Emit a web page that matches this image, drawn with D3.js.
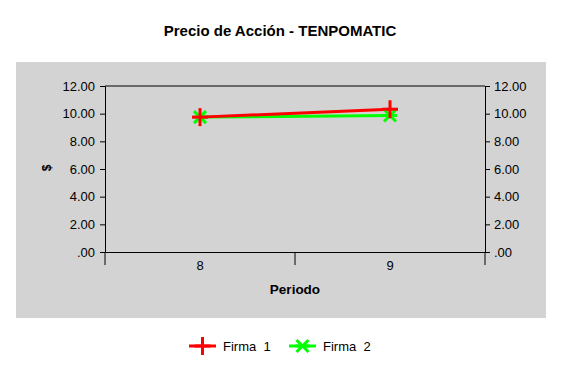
<!DOCTYPE html>
<html>
<head>
<meta charset="utf-8">
<script src="https://cdn.jsdelivr.net/npm/d3@7"></script>
<style>
  body { margin: 0; background: #fff; }
  text { font-family: Arial, "Liberation Sans", sans-serif; fill: #000; }
</style>
</head>
<body>
<div id="app"></div>
<script>
var w = 562, h = 372;

// datos
const periodos = ["8", "9"];
const firma1 = [9.75, 10.32];
const firma2 = [9.75, 9.87];
const yTicks = [0, 2, 4, 6, 8, 10, 12];
const series = [
  { name: "Firma  1", values: firma1, color: "#ff0000", marker: "plus" },
  { name: "Firma  2", values: firma2, color: "#00ff00", marker: "x" }
];

const plot = { left: 105, right: 485, top: 86, bottom: 252 };

const svg = d3.select("#app")
  .append("svg")
  .attr("width", w)
  .attr("height", h)

svg.append("rect")
  .attr("x", 16).attr("y", 62)
  .attr("width", 530).attr("height", 256)
  .attr("fill", "#d3d3d3")

svg.append("text")
  .attr("x", 280).attr("y", 36)
  .style("text-anchor", "middle")
  .style("font-weight", "bold")
  .style("font-size", "15px")
  .text("Precio de Acción - TENPOMATIC");

const xScale = d3.scaleBand()
  .domain(periodos)
  .range([plot.left, plot.right])

const yScale = d3.scaleLinear()
  .domain([0, 12])
  .range([plot.bottom, plot.top])

const fmt = d => d === 0 ? ".00" : d3.format(".2f")(d);

// ejes
svg.append("g")
  .attr("transform", "translate(" + plot.left + ",0)")
  .call(d3.axisLeft(yScale).tickValues(yTicks).tickFormat(fmt).tickSize(5).tickPadding(5))
svg.append("g")
  .attr("transform", "translate(" + plot.right + ",0)")
  .call(d3.axisRight(yScale).tickValues(yTicks).tickFormat(fmt).tickSize(5).tickPadding(4))
svg.append("g")
  .attr("transform", "translate(0," + plot.bottom + ")")
  .call(d3.axisBottom(xScale).tickSize(0).tickPadding(9))

// linea superior
svg.append("line")
  .attr("x1", plot.left).attr("x2", plot.right)
  .attr("y1", plot.top).attr("y2", plot.top)
  .attr("stroke", "#000")

// marcas entre categorias
const bounds = [plot.left].concat(periodos.map(p => xScale(p) + xScale.bandwidth()))
svg.selectAll(".xtick")
  .data(bounds)
  .enter()
  .append("line")
  .attr("x1", d => d).attr("x2", d => d)
  .attr("y1", plot.bottom).attr("y2", plot.bottom + 13)
  .attr("stroke", "#000")

svg.selectAll(".domain").attr("stroke", "#000");
svg.selectAll(".tick line").attr("stroke", "#000");
svg.selectAll(".tick text").style("font-size", "13px").attr("fill", "#000");

svg.append("text")
  .attr("x", 295).attr("y", 294)
  .style("text-anchor", "middle")
  .style("font-weight", "bold")
  .style("font-size", "13.5px")
  .text("Periodo");

svg.append("text")
  .attr("transform", "translate(51,168) rotate(-90)")
  .style("text-anchor", "middle")
  .style("font-weight", "bold")
  .style("font-size", "12px")
  .text("$");

const cx = d => xScale(d) + xScale.bandwidth() / 2;

function drawMarker(g, type, color) {
  if (type === "plus") {
    g.append("line").attr("x1", -8).attr("x2", 8).attr("y1", 0).attr("y2", 0)
    g.append("line").attr("x1", 0).attr("x2", 0).attr("y1", -9).attr("y2", 9)
  } else {
    g.append("line").attr("x1", -6).attr("x2", 6).attr("y1", -6).attr("y2", 6)
    g.append("line").attr("x1", -6).attr("x2", 6).attr("y1", 6).attr("y2", -6)
    g.append("line").attr("x1", -7).attr("x2", 7).attr("y1", 0).attr("y2", 0)
  }
  g.selectAll("line").attr("stroke", color).attr("stroke-width", 3)
}

const line = d3.line()
  .x((d, i) => cx(periodos[i]))
  .y(d => yScale(d))

// dibujar Firma 2 primero, luego Firma 1 encima
series.slice().reverse().forEach(s => {
  svg.append("path")
    .datum(s.values)
    .attr("d", line)
    .attr("fill", "none")
    .attr("stroke", s.color)
    .attr("stroke-width", 3)
})
series.slice().reverse().forEach(s => {
  s.values.forEach((v, i) => {
    const g = svg.append("g")
      .attr("transform", "translate(" + cx(periodos[i]) + "," + yScale(v) + ")")
    drawMarker(g, s.marker, s.color)
  })
})

// leyenda
const legend = svg.append("g").attr("transform", "translate(189,346)")
series.forEach((s, i) => {
  const g = legend.append("g").attr("transform", "translate(" + (i * 100) + ",0)")
  g.append("line").attr("x1", 0).attr("x2", 27).attr("y1", 0).attr("y2", 0)
    .attr("stroke", s.color).attr("stroke-width", 3)
  const m = g.append("g").attr("transform", "translate(13.5,0)")
  drawMarker(m, s.marker, s.color)
  g.append("text")
    .attr("x", 34).attr("y", 5)
    .style("font-size", "13px")
    .style("white-space", "pre")
    .attr("xml:space", "preserve")
    .text(s.name)
})
</script>
</body>
</html>
